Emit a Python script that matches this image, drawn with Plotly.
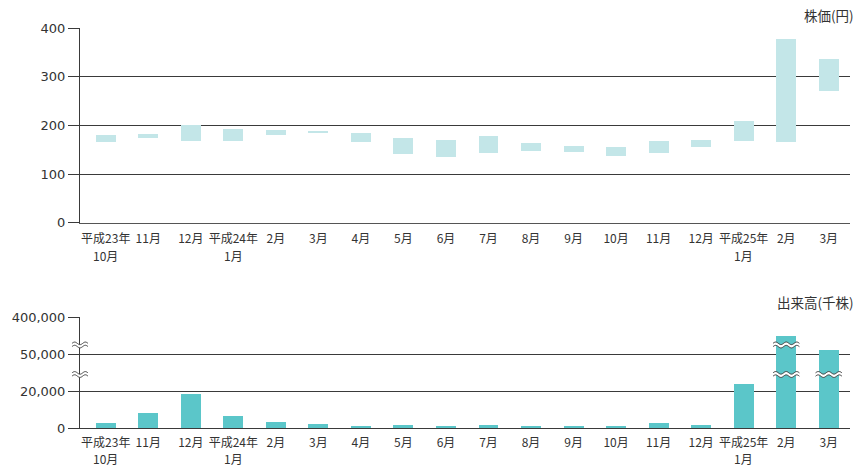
import numpy as np
import plotly.graph_objects as go

# ---------------- data ----------------
categories = ["平成23年<br>10月", "11月", "12月", "平成24年<br>1月", "2月", "3月", "4月", "5月",
              "6月", "7月", "8月", "9月", "10月", "11月", "12月", "平成25年<br>1月", "2月", "3月"]
price_high = [181, 183, 201, 193, 191, 189, 185, 175, 170, 179, 164, 158, 156, 168, 170, 208, 377, 337]
price_low = [166, 173, 168, 168, 181, 185, 166, 142, 136, 144, 148, 146, 138, 144, 156, 168, 166, 270]
volume = [2300, 7700, 18000, 6100, 2900, 2200, 1100, 1600, 1100, 1600, 1100, 600, 600, 2300, 1200,
          25900, 223000, 90700]
price_ticks = [0, 100, 200, 300, 400]
volume_ticks = [0, 20000, 50000, 400000]
volume_ticklabels = ["0", "20,000", "50,000", "400,000"]
price_title = "株価(円)"
volume_title = "出来高(千株)"

# broken volume axis: each segment between ticks gets equal height
def vol_scale(v):
    for i in range(len(volume_ticks) - 1):
        a, b = volume_ticks[i], volume_ticks[i + 1]
        if v <= b:
            return i + (v - a) / (b - a)
    return len(volume_ticks) - 1

x = list(range(len(categories)))
vol_disp = [vol_scale(v) for v in volume]
first_lines = [c.split("<br>")[0] for c in categories]
second_lines = [(i, c.split("<br>")[1]) for i, c in enumerate(categories) if "<br>" in c]

TOP_COL = "#c3e6e8"
BOT_COL = "#5bc6c9"
GRID = "#3a3a3a"
TXT = "#333333"
XR = [-0.605, len(categories) - 0.5]
BW = 0.47

fig = go.Figure()
fig.add_trace(go.Bar(x=x, y=[h - l for h, l in zip(price_high, price_low)], base=price_low,
                     width=BW, marker=dict(color=TOP_COL, line=dict(width=0)),
                     xaxis="x", yaxis="y", hoverinfo="skip"))
fig.add_trace(go.Bar(x=x, y=vol_disp, width=BW, marker=dict(color=BOT_COL, line=dict(width=0)),
                     xaxis="x2", yaxis="y2", hoverinfo="skip"))

# ---------- break marks ----------
def wave_pts(x0, x1, yc, amp, periods, n=40):
    xs = np.linspace(x0, x1, n)
    ys = yc + amp * np.sin((xs - x0) / (x1 - x0) * periods * 2 * np.pi)
    return xs, ys

def path_from(xs, ys):
    return "M " + " L ".join(f"{a:.5f},{b:.5f}" for a, b in zip(xs, ys))

def add_break(cx, half_w, yc, gap, amp, xref, yref, periods=2.5):
    xs, yu = wave_pts(cx - half_w, cx + half_w, yc + gap / 2, amp, periods)
    _, yl = wave_pts(cx - half_w, cx + half_w, yc - gap / 2, amp, periods)
    fill = path_from(xs, yu) + " L " + " L ".join(
        f"{a:.5f},{b:.5f}" for a, b in zip(xs[::-1], yl[::-1])) + " Z"
    fig.add_shape(type="path", path=fill, xref=xref, yref=yref, fillcolor="white",
                  line=dict(width=0), layer="above")
    for ys in (yu, yl):
        fig.add_shape(type="path", path=path_from(xs, ys), xref=xref, yref=yref,
                      line=dict(color=GRID, width=1), layer="above")

# layout geometry
ML, MR, MT, MB = 80, 6, 28, 40
W, H = 856, 468
PH = H - MT - MB
top_dom = [(H - MB - 222.7) / PH, 1.0]
bot_dom = [0.0, (H - MB - 317.3) / PH]

break_levels = [2.25, 1.45]
for i, vd in enumerate(vol_disp):
    for lev in break_levels:
        if vd > lev + 0.15:
            add_break(i, 0.31, lev, 0.09, 0.035, "x2", "y2")
pw = W - ML - MR
for lev in break_levels:
    yp = bot_dom[0] + lev / (len(volume_ticks) - 1) * (bot_dom[1] - bot_dom[0])
    add_break(0.0, 8 / pw, yp, 3.2 / PH, 1.3 / PH, "paper", "paper", periods=1.5)

# ---------- layout ----------
tickfont_y = dict(family="DejaVu Sans, Noto Sans CJK JP", size=13, color=TXT)
tickfont_x = dict(family="Noto Sans CJK JP", size=12, color=TXT)
title_font = dict(family="Noto Sans CJK JP", size=13.5, color=TXT)

annotations = [
    dict(text=price_title, xref="paper", yref="paper", x=1.0 + 6 / pw, y=1 + 13 / PH,
         xanchor="right", yanchor="middle", showarrow=False, font=title_font),
    dict(text=volume_title, xref="paper", yref="paper", x=1.0 + 6 / pw,
         y=bot_dom[1] + 15 / PH, xanchor="right", yanchor="middle", showarrow=False,
         font=title_font),
]
# second line of the two-line month labels
for xa, dom0, off in (("x", top_dom[0], 33), ("x2", bot_dom[0], 30.5)):
    for i, t in second_lines:
        annotations.append(dict(text=t, xref=xa, yref="paper", x=i, y=dom0 - off / PH,
                                xanchor="center", yanchor="middle", showarrow=False,
                                font=tickfont_x))

fig.update_layout(
    width=W, height=H, showlegend=False, bargap=0,
    plot_bgcolor="white", paper_bgcolor="white",
    margin=dict(l=ML, r=MR, t=MT, b=MB, autoexpand=False),
    xaxis=dict(domain=[0, 1], anchor="y", range=XR, tickvals=x, ticktext=first_lines,
               showgrid=False, zeroline=False, showline=True, linecolor="#555555", linewidth=1,
               ticks="", tickfont=tickfont_x, ticklabelstandoff=5, fixedrange=True,
               automargin=False),
    yaxis=dict(domain=top_dom, anchor="x", range=[0, 400], tickvals=price_ticks,
               showgrid=True, gridcolor=GRID, gridwidth=1, zeroline=False,
               showline=True, linecolor=GRID, linewidth=1,
               ticks="outside", ticklen=11, tickcolor=GRID, tickwidth=1,
               tickfont=tickfont_y, fixedrange=True, automargin=False),
    xaxis2=dict(domain=[0, 1], anchor="y2", range=XR, tickvals=x, ticktext=first_lines,
                showgrid=False, zeroline=False, showline=True, linecolor=GRID, linewidth=1,
                ticks="", tickfont=tickfont_x, ticklabelstandoff=4, fixedrange=True,
                automargin=False),
    yaxis2=dict(domain=bot_dom, anchor="x2", range=[0, len(volume_ticks) - 1],
                tickvals=list(range(len(volume_ticks))), ticktext=volume_ticklabels,
                showgrid=True, gridcolor=GRID, gridwidth=1, zeroline=False,
                showline=True, linecolor=GRID, linewidth=1,
                ticks="outside", ticklen=11, tickcolor=GRID, tickwidth=1,
                tickfont=tickfont_y, fixedrange=True, automargin=False),
    annotations=annotations,
)

fig.write_html("out.html")
